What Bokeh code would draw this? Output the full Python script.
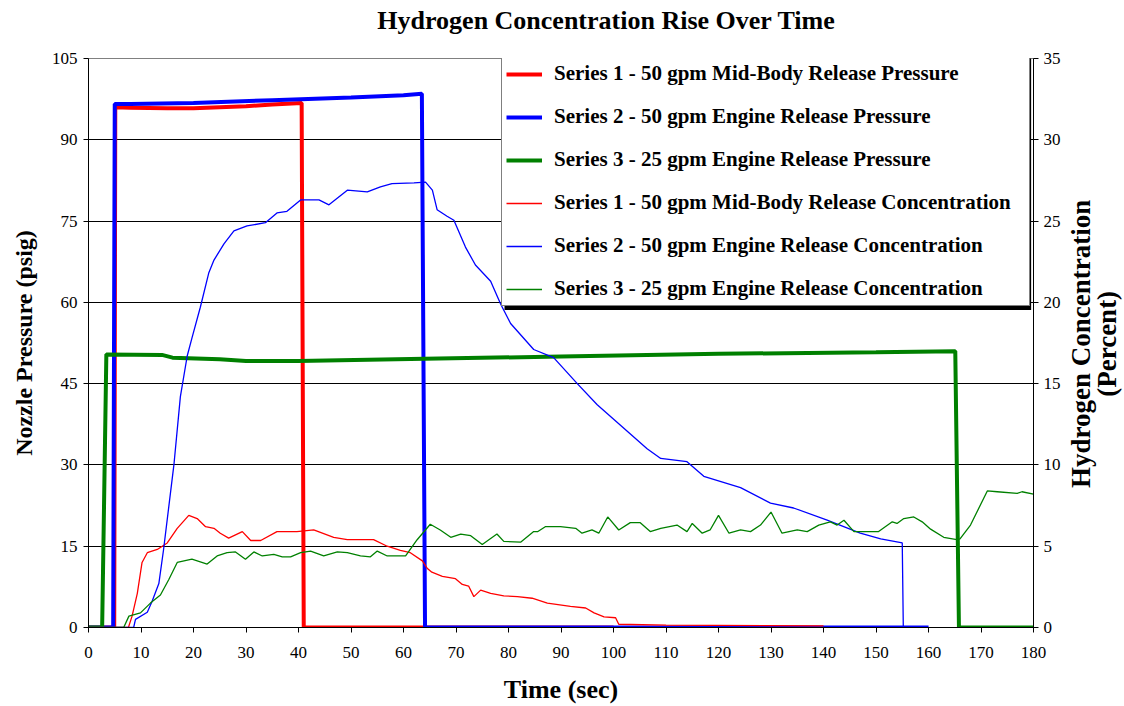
import math
from bokeh.plotting import figure
from bokeh.layouts import column, row
from bokeh.models import Range1d, LinearAxis, FixedTicker, Legend, LegendItem, BoxAnnotation
from bokeh.core.properties import value
from bokeh.embed import file_html
from bokeh.resources import INLINE

# ---------------- data ----------------
time_ticks = list(range(0, 181, 10))
pressure_ticks = [0, 15, 30, 45, 60, 75, 90, 105]
conc_ticks = [0, 5, 10, 15, 20, 25, 30, 35]

s1_press_t = [0, 4.9, 5.1, 8, 15, 20, 25, 30, 35, 40.6, 41.0, 100]
s1_press_v = [0, 0, 96.0, 95.9, 95.8, 95.8, 96.0, 96.2, 96.5, 96.8, 0, 0]

s2_press_t = [0, 4.7, 5.0, 8, 20, 35, 50, 60, 63.5, 64.1, 160]
s2_press_v = [0, 0, 96.6, 96.6, 96.8, 97.3, 97.8, 98.2, 98.5, 0, 0]

s3_press_t = [0, 2.6, 3.4, 14, 16, 25, 30, 40, 64, 90, 120, 150, 165.1, 165.8, 180]
s3_press_v = [0, 0, 50.4, 50.3, 49.8, 49.5, 49.2, 49.2, 49.6, 50.0, 50.5, 50.8, 51.0, 0, 0]

s1_conc_t = [0, 7.6, 8.3, 9.3, 10.2, 11.2, 13.1, 15, 16.9, 19.1,
             20.7, 22.3, 23.9, 25.1, 26.7, 29.3, 30.9, 32.8, 35.9, 39.7,
             42.9, 46.7, 49.3, 54.3, 56.9, 59.4, 61.3, 63.6, 64.5, 65.4,
             67.4, 69.9, 71.2, 72.4, 73.4, 74.7, 76.6, 79.1, 81.7, 84.5,
             87.4, 91.8, 94.7, 96.3, 98.2, 100.4, 101, 110, 140]
s1_conc_v = [0, 0, 0.7, 2.1, 4.0, 4.6, 4.8, 5.2, 6.1, 6.9,
             6.7, 6.2, 6.1, 5.8, 5.5, 5.9, 5.35, 5.35, 5.9, 5.9,
             6.0, 5.55, 5.4, 5.4, 5.0, 4.75, 4.6, 4.1, 3.65, 3.4,
             3.15, 3.0, 2.65, 2.55, 1.9, 2.3, 2.1, 1.95, 1.9, 1.8,
             1.5, 1.3, 1.2, 0.9, 0.65, 0.6, 0.2, 0.15, 0.1]

s2_conc_t = [0, 8.6, 8.95, 11.2, 12.1, 13.4, 14.3, 15.3, 16.3, 17.5,
             18.8, 19.7, 21.3, 22.9, 23.9, 25.8, 27.7, 30.2, 33.7, 35.9,
             37.8, 40.4, 43.9, 45.8, 49.3, 53.1, 55.6, 57.8, 62, 64.2,
             65.5, 66.4, 68.3, 69.6, 71.8, 73.7, 76.6, 78.5, 80.4, 84.8,
             88.6, 93.1, 96.9, 106.4, 109, 114, 117.2, 124.2, 129.9, 134.3,
             140.7, 147, 150.9, 155, 155.2, 160]
s2_conc_v = [0, 0, 0.5, 0.94, 1.6, 2.7, 4.8, 7.45, 10.1, 14.2,
             16.7, 17.8, 19.7, 21.8, 22.6, 23.6, 24.4, 24.7, 24.9, 25.5,
             25.6, 26.3, 26.3, 26.0, 26.9, 26.8, 27.1, 27.3, 27.35, 27.4,
             26.9, 25.7, 25.3, 25.05, 23.4, 22.3, 21.3, 19.9, 18.7, 17.1,
             16.6, 15.0, 13.7, 11.0, 10.4, 10.2, 9.3, 8.6, 7.65, 7.35,
             6.6, 5.8, 5.45, 5.2, 0, 0]

s3_conc_t = [0, 6.7, 7.7, 9.9, 11.8, 13.7, 15.3, 16.9, 19.7, 22.6,
             24.5, 26.4, 28, 29.9, 31.5, 33.1, 35.3, 36.9, 38.5, 40.4,
             42.3, 44.8, 47.4, 49.3, 51.8, 53.7, 55, 56.9, 60.4, 62.6,
             65.1, 67, 69, 70.9, 72.8, 75, 77.8, 79.1, 82.3, 84.8,
             85.6, 87, 89.9, 92.8, 94, 95.9, 97.2, 98.9, 101, 103.2,
             105.1, 107, 109, 112.1, 114, 115, 116.9, 118.4, 120, 122,
             124.2, 126.1, 128, 130, 132.1, 135, 136.9, 139.1, 141.3, 142.6,
             143.9, 145.8, 150.5, 153.1, 154, 155.3, 157.2, 158.8, 160.4, 162.9,
             165.4, 166, 168, 171.2, 173.1, 176.9, 177.8, 180]
s3_conc_v = [0, 0, 0.7, 0.9, 1.5, 2.0, 2.95, 4.0, 4.2, 3.9,
             4.4, 4.6, 4.65, 4.2, 4.65, 4.4, 4.5, 4.35, 4.35, 4.6,
             4.7, 4.4, 4.65, 4.6, 4.4, 4.35, 4.7, 4.4, 4.4, 5.4,
             6.35, 6.0, 5.55, 5.75, 5.65, 5.1, 5.75, 5.3, 5.25, 5.9,
             5.9, 6.2, 6.2, 6.1, 5.8, 6.0, 5.8, 6.8, 6.0, 6.45,
             6.45, 5.9, 6.1, 6.3, 5.9, 6.4, 5.8, 6.0, 6.9, 5.8,
             6.0, 5.9, 6.3, 7.1, 5.8, 6.0, 5.9, 6.3, 6.5, 6.3,
             6.6, 5.9, 5.9, 6.5, 6.4, 6.7, 6.8, 6.5, 6.05, 5.55,
             5.4, 5.45, 6.3, 8.4, 8.35, 8.25, 8.35, 8.2]

labels = [
    "Series 1 - 50 gpm Mid-Body Release Pressure",
    "Series 2 - 50 gpm Engine Release Pressure",
    "Series 3 - 25 gpm Engine Release Pressure",
    "Series 1 - 50 gpm Mid-Body Release Concentration",
    "Series 2 - 50 gpm Engine Release Concentration",
    "Series 3 - 25 gpm Engine Release Concentration",
]
title_text = "Hydrogen Concentration Rise Over Time"
right_label_lines = ["Hydrogen Concentration", "(Percent)"]

RED, BLUE, GREEN = "#FF0000", "#0000FF", "#008000"
FONT = "Liberation Serif"


def blank_panel(w, h):
    f = figure(width=w, height=h, output_backend="svg", toolbar_location=None,
               x_range=Range1d(0, w), y_range=Range1d(0, h),
               x_axis_type=None, y_axis_type=None, min_border=0)
    f.outline_line_color = None
    f.background_fill_color = "white"
    f.border_fill_color = "white"
    return f

# ---------------- title panel ----------------
top = blank_panel(1124, 40)
top.text(x=[606], y=[20], text=[title_text], text_font=value(FONT),
         text_font_style="bold", text_font_size="26px", text_color="black",
         text_align="center", text_baseline="middle")

# ---------------- main figure ----------------
p = figure(width=1063, height=666, output_backend="svg", toolbar_location=None,
           x_range=Range1d(0, 180), y_range=Range1d(0, 105),
           min_border_left=88, min_border_right=30, min_border_top=18, min_border_bottom=78)
p.extra_y_ranges = {"conc": Range1d(0, 35)}
p.background_fill_color = "white"
p.border_fill_color = "white"
p.outline_line_color = "#808080"
p.outline_line_width = 1


def style_axis(ax, ticks):
    ax.ticker = FixedTicker(ticks=ticks)
    ax.axis_line_color = "black"
    ax.axis_line_width = 1
    ax.major_tick_line_color = "black"
    ax.major_tick_out = 5
    ax.major_tick_in = 0
    ax.minor_tick_line_color = None
    ax.major_label_text_font = FONT
    ax.major_label_text_font_size = "17px"
    ax.major_label_text_color = "black"
    ax.axis_label_text_font = FONT
    ax.axis_label_text_font_style = "bold"
    ax.axis_label_text_font_size = "24px"
    ax.axis_label_text_color = "black"

style_axis(p.xaxis[0], time_ticks)
p.xaxis.axis_label = "Time (sec)"
p.xaxis.axis_label_text_font_size = "26px"
p.xaxis.major_label_standoff = 14
p.xaxis.axis_label_standoff = 14

style_axis(p.yaxis[0], pressure_ticks)
p.yaxis.axis_label = "Nozzle Pressure (psig)"
p.yaxis.major_label_standoff = 6
p.yaxis.axis_label_standoff = 12

ax_r = LinearAxis(y_range_name="conc")
style_axis(ax_r, conc_ticks)
ax_r.major_label_standoff = 5
p.add_layout(ax_r, "right")

p.xgrid.visible = False
p.ygrid.grid_line_color = "black"
p.ygrid.grid_line_width = 1

# legend drop shadow (decoration)
shadow = BoxAnnotation(left=79.24, right=179.55, bottom=58.58, top=106.5,
                       fill_color="black", fill_alpha=1, line_color=None)
p.add_layout(shadow)

r1 = p.line(s1_press_t, s1_press_v, color=RED, line_width=4)
r2 = p.line(s2_press_t, s2_press_v, color=BLUE, line_width=4)
r3 = p.line(s3_press_t, s3_press_v, color=GREEN, line_width=4)
r4 = p.line(s1_conc_t, s1_conc_v, color=RED, line_width=1.3, y_range_name="conc")
r5 = p.line(s2_conc_t, s2_conc_v, color=BLUE, line_width=1.3, y_range_name="conc")
r6 = p.line(s3_conc_t, s3_conc_v, color=GREEN, line_width=1.3, y_range_name="conc")

legend = Legend(items=[LegendItem(label=l, renderers=[r]) for l, r in
                       zip(labels, [r1, r2, r3, r4, r5, r6])],
                location=(413, 321))
legend.border_line_color = "black"
legend.border_line_width = 1
legend.background_fill_color = "white"
legend.background_fill_alpha = 1
legend.padding = 4
legend.margin = 0
legend.spacing = 18
legend.glyph_width = 36
legend.glyph_height = 22
legend.label_height = 22
legend.label_width = 471
legend.label_standoff = 12
legend.label_text_font = FONT
legend.label_text_font_style = "bold"
legend.label_text_font_size = "21px"
legend.label_text_color = "black"
p.add_layout(legend)

# ---------------- right axis title panel ----------------
side = blank_panel(61, 666)
side.text(x=[17, 43], y=[332, 332], text=right_label_lines, angle=math.pi / 2,
          text_font=value(FONT), text_font_style="bold", text_font_size="27px",
          text_color="black", text_align="center", text_baseline="middle")

layout = column(top, row(p, side, spacing=0), spacing=0)
open("out.html", "w").write(file_html(layout, INLINE))
